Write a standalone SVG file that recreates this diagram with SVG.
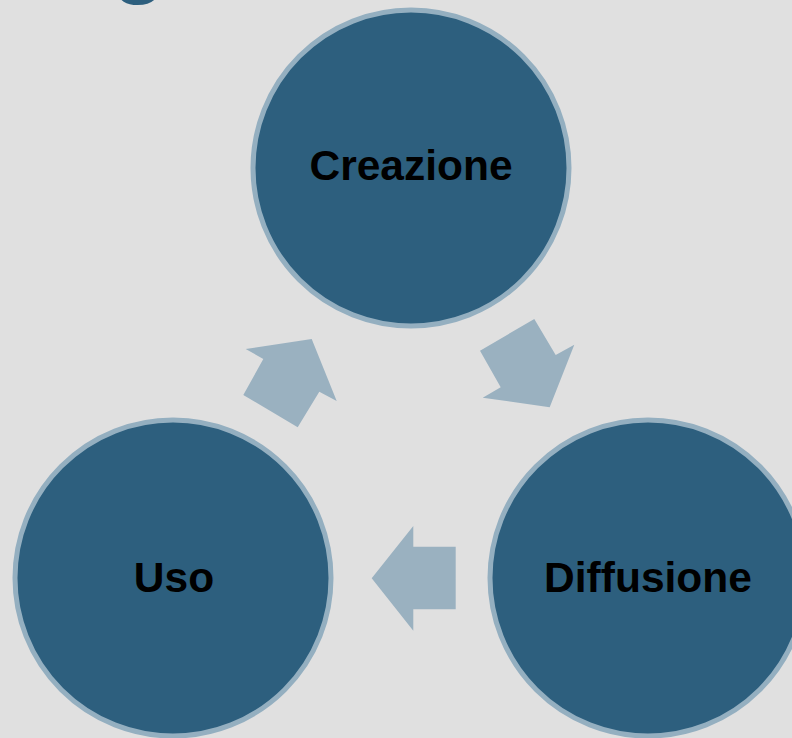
<svg xmlns="http://www.w3.org/2000/svg" width="792" height="738" viewBox="0 0 792 738">
<style>
.node{fill:#2d5f7e;stroke:#94afc0;stroke-width:5}
.lbl{font-family:"Liberation Sans",Arial,sans-serif;font-weight:bold;font-size:42.5px;fill:#000;text-anchor:middle;dominant-baseline:central}
.arr{fill:#9ab1c0}
</style>
<rect width="792" height="738" fill="#e0e0e0"/>
<text x="139" y="-14" font-family="Liberation Sans,Arial,sans-serif" font-weight="bold" font-size="90" fill="#2d5f7e" text-anchor="middle">g</text>
<g id="connectors">
<polygon class="arr" points="245.7,349 311.7,339 336.7,401 319.3,391.7 297.7,427.3 243.3,395 263.3,359"/>
<polygon class="arr" points="534.3,319 555.7,355 574.3,344.7 549.7,407.3 482.7,397.7 500.7,387.3 480,350.7"/>
<polygon class="arr" points="413.3,526 413.3,546.7 455.7,546.7 455.7,609.3 413.3,609.3 413.3,630.7 371.7,578.3"/>
</g>
<g id="creazione">
<circle class="node" cx="411" cy="168" r="158"/>
<text class="lbl" x="411" y="165">Creazione</text>
</g>
<g id="uso">
<circle class="node" cx="173" cy="578" r="158"/>
<text class="lbl" x="174" y="577">Uso</text>
</g>
<g id="diffusione">
<circle class="node" cx="648" cy="578" r="158"/>
<text class="lbl" x="648" y="577">Diffusione</text>
</g>
</svg>
